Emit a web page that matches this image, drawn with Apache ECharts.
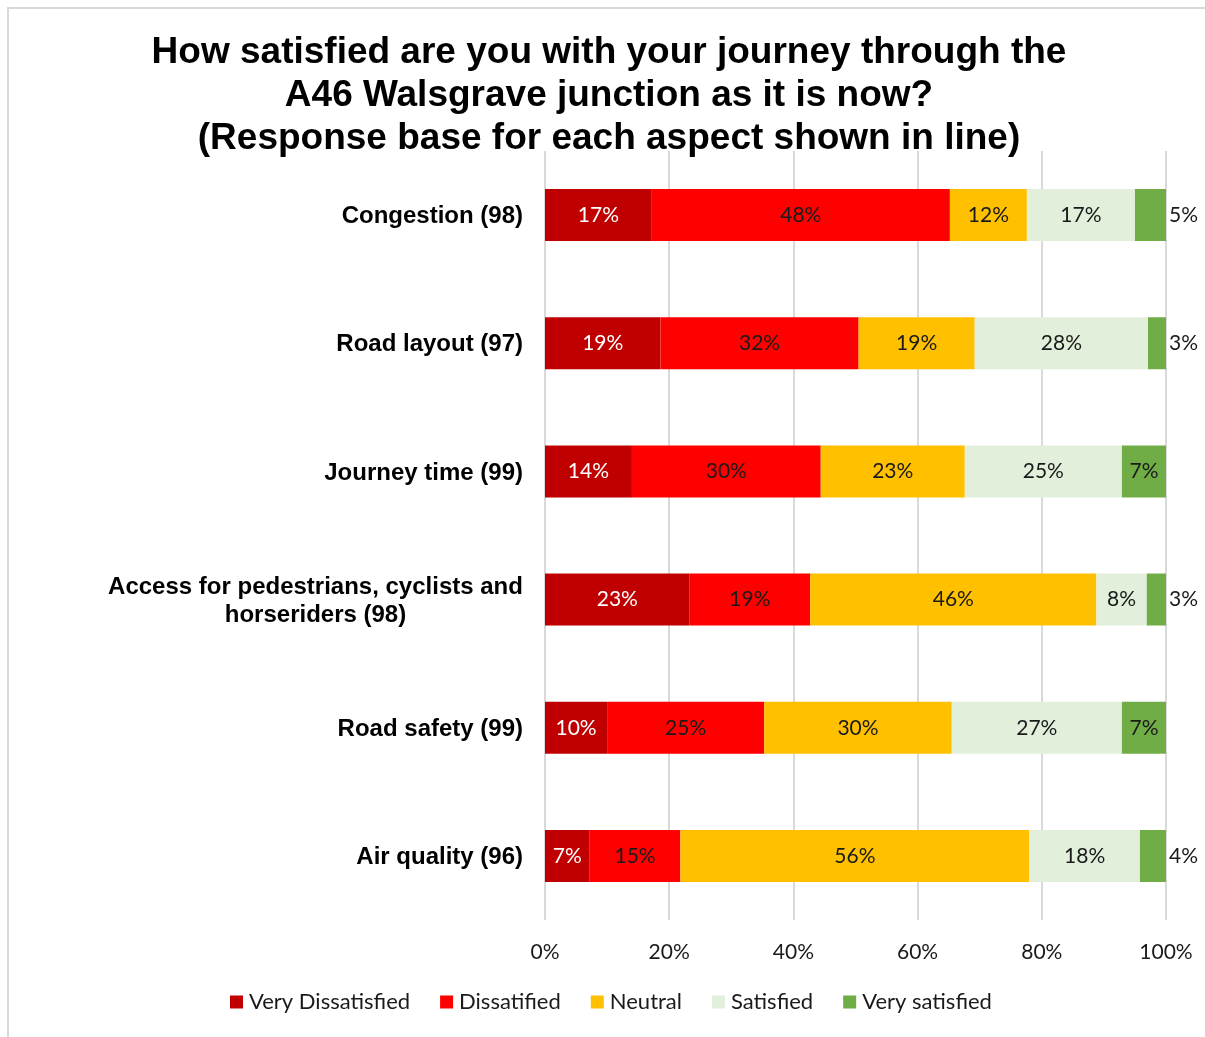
<!DOCTYPE html>
<html>
<head>
<meta charset="utf-8">
<title>A46 Walsgrave junction – journey satisfaction</title>
<script src="https://cdn.jsdelivr.net/npm/echarts@6/dist/echarts.min.js"></script>
<style>
  html, body { margin: 0; padding: 0; background: #ffffff; }
  #frame { position: absolute; left: 7px; top: 7px; width: 1198px; height: 1030px;
           border-left: 2px solid #d9d9d9; border-top: 2px solid #d9d9d9; box-sizing: border-box; }
  #chart { position: absolute; left: 0; top: 0; width: 1205px; height: 1037px; }
</style>
</head>
<body>
<div id="frame"></div>
<div id="chart"></div>
<script>
// Aspects of the journey, top to bottom (response base in brackets)
const categories = [
  'Congestion (98)',
  'Road layout (97)',
  'Journey time (99)',
  'Access for pedestrians, cyclists and\nhorseriders (98)',
  'Road safety (99)',
  'Air quality (96)'
];

// Share of respondents (%) per satisfaction level
const veryDissatisfied = [17.2, 18.6, 14.0, 23.3, 10.0, 7.2];
const dissatisfied     = [48.0, 31.9, 30.4, 19.4, 25.3, 14.6];
const neutral          = [12.4, 18.7, 23.2, 46.1, 30.2, 56.2];
const satisfied        = [17.4, 27.9, 25.3, 8.1, 27.4, 17.8];
const verySatisfied    = [5.0, 2.9, 7.1, 3.1, 7.1, 4.2];

const seriesNames = ['Very Dissatisfied', 'Dissatified', 'Neutral', 'Satisfied', 'Very satisfied'];
const seriesColors = ['#C00000', '#FF0000', '#FFC000', '#E2EFDA', '#70AD47'];
const seriesValues = [veryDissatisfied, dissatisfied, neutral, satisfied, verySatisfied];

const xTicks = [0, 20, 40, 60, 80, 100];

const labelFont = 'Lato, "DejaVu Sans", sans-serif';
const catFont = '"Liberation Sans", Arial, sans-serif';
const catSize = 24;

// width of the widest line of the two-line category, so both lines can be centred
function textWidth(str, font) {
  const c = document.createElement('canvas').getContext('2d');
  c.font = font;
  return Math.ceil(c.measureText(str).width);
}
const wrapWidth = textWidth('Access for pedestrians, cyclists and', 'bold ' + catSize + 'px "Liberation Sans"');

const chart = echarts.init(document.getElementById('chart'), null, { renderer: 'canvas' });

const series = seriesValues.map((vals, si) => ({
  name: seriesNames[si],
  type: 'bar',
  stack: 'total',
  barWidth: 52,
  itemStyle: { color: seriesColors[si] },
  data: vals.map(v => {
    const d = { value: v };
    // slim end segments get their label just past the bar end
    if (si === 4 && v < 6) {
      d.label = { position: 'right', distance: 3 };
    }
    return d;
  }),
  label: {
    show: true,
    position: 'inside',
    formatter: p => Math.round(p.value) + '%',
    fontFamily: labelFont,
    fontSize: 21,
    padding: [3, 0, 0, 0],
    color: si === 0 ? '#ffffff' : '#1a1a1a'
  }
}));

chart.setOption({
  animation: false,
  backgroundColor: 'transparent',
  title: {
    text: 'How satisfied are you with your journey through the\nA46 Walsgrave junction as it is now?\n(Response base for each aspect shown in line)',
    left: 604,
    top: 26,
    textAlign: 'center',
    textStyle: {
      fontFamily: catFont,
      fontWeight: 'bold',
      fontSize: 37,
      lineHeight: 43,
      color: '#000000'
    }
  },
  legend: {
    data: seriesNames,
    left: 230,
    top: 991,
    padding: 0,
    icon: 'rect',
    itemWidth: 13,
    itemHeight: 13,
    itemGap: 30,
    textStyle: { fontFamily: labelFont, fontSize: 22, color: '#1a1a1a', padding: [0, 0, 0, 1] }
  },
  grid: {
    left: 545,
    right: 39,
    top: 151,
    bottom: 117,
    containLabel: false
  },
  xAxis: {
    type: 'value',
    min: 0,
    max: 100,
    interval: 20,
    axisLine: { show: false },
    axisTick: { show: false },
    splitLine: { show: true, lineStyle: { color: '#d9d9d9', width: 2 } },
    axisLabel: {
      margin: 22,
      fontFamily: labelFont,
      fontSize: 21,
      color: '#1a1a1a',
      formatter: v => (xTicks.includes(v) ? v + '%' : '')
    }
  },
  yAxis: {
    type: 'category',
    inverse: true,
    data: categories,
    axisLine: { show: false },
    axisTick: { show: false },
    axisLabel: {
      margin: 22,
      fontFamily: catFont,
      fontWeight: 'bold',
      fontSize: catSize,
      color: '#000000',
      padding: [3, 0, 0, 0],
      formatter: v => {
        if (v.indexOf('\n') >= 0) {
          return v.split('\n').map(l => '{c|' + l + '}').join('\n');
        }
        return v;
      },
      rich: {
        c: {
          width: wrapWidth,
          align: 'center',
          fontFamily: catFont,
          fontWeight: 'bold',
          fontSize: catSize,
          lineHeight: 28,
          color: '#000000'
        }
      }
    }
  },
  series: series
});
</script>
</body>
</html>
